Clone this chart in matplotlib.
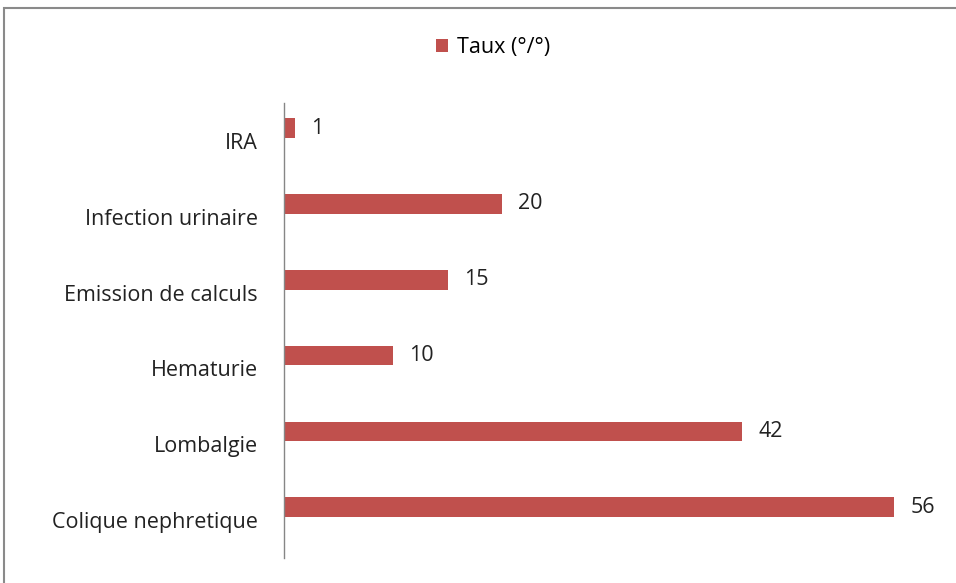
import numpy as np
import matplotlib.pyplot as plt
from matplotlib.patches import Rectangle

categories = ["Colique nephretique", "Lombalgie", "Hematurie",
              "Emission de calculs", "Infection urinaire", "IRA"]
values = [56, 42, 10, 15, 20, 1]
series_name = "Taux (°/°)"

plt.rcParams["font.family"] = ["Open Sans", "DejaVu Sans"]

fig = plt.figure(figsize=(9.56, 5.83), dpi=100)
W, H = 956, 583
ax = fig.add_axes([284 / W, 1 - 558 / H, (938 - 284) / W, (558 - 103) / H])

y = np.arange(len(categories))
# bars sit a little above the category centre (as in the original Excel chart)
bars = ax.barh(y + 0.17, values, height=0.26, color="#C0504D", label=series_name)
for b, v in zip(bars, values):
    ax.text(b.get_width() + 1.5, b.get_y() + b.get_height() / 2, str(v),
            va="center", ha="left", fontsize=15.5, color="#222222")

ax.set_yticks(y, categories)
ax.set_xlim(0, 60)
ax.set_ylim(-0.5, len(categories) - 0.5)
ax.set_xticks([])
ax.tick_params(axis="y", length=0, pad=19, labelsize=15.5, labelcolor="#222222")
for s in ["top", "right", "bottom"]:
    ax.spines[s].set_visible(False)
ax.spines["left"].set_color("#868686")
ax.spines["left"].set_linewidth(1)

fig.legend(loc="center", bbox_to_anchor=(493 / W, 1 - 48 / H), frameon=False,
           fontsize=15.5, handlelength=0.55, handleheight=0.55, handletextpad=0.4)

# chart border
fig.patches.append(Rectangle((4 / W, -0.05), 1.05, 1 - 8 / H + 0.05,
                             transform=fig.transFigure, fill=False,
                             edgecolor="#8a8a8a", linewidth=1.5))

fig.savefig("out.png", dpi=100)
